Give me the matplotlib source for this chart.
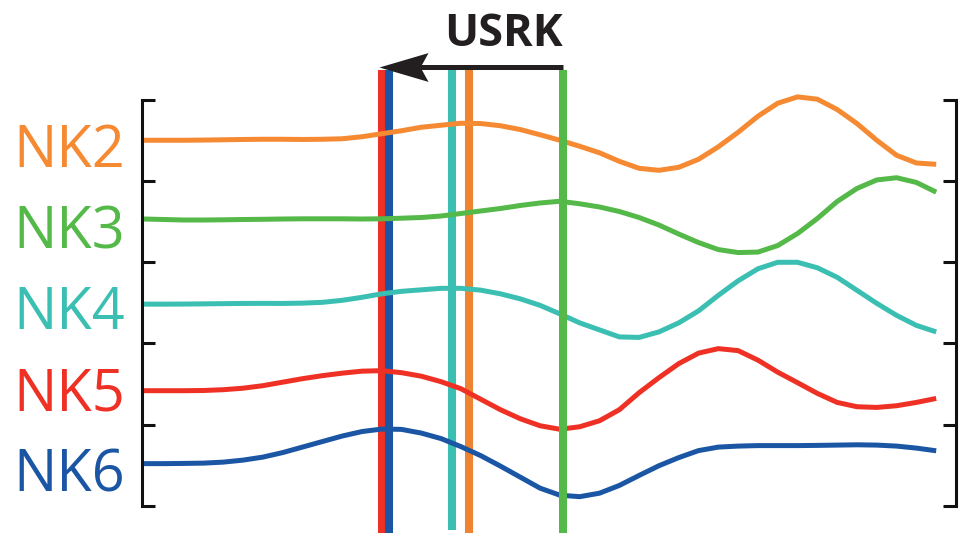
import numpy as np
import matplotlib.pyplot as plt
from matplotlib.path import Path
from matplotlib.transforms import blended_transform_factory

plt.rcParams['font.family'] = ['Open Sans', 'DejaVu Sans']

channels = ["NK2", "NK3", "NK4", "NK5", "NK6"]
colors = ["#F58A33", "#54B948", "#3BBFB2", "#EE3124", "#1B56A5"]
bar_colors = ["#EE8432", "#54B948", "#3BBFB2", "#EE3124", "#1B56A5"]

# 41 samples per channel, amplitude relative to the channel baseline
t = np.arange(41)
nk2 = [0.3, 0.3, 0.3, 0.5, 0.8, 1.1, 1.3, 1.3, 1.1, 1.3,
       1.8, 3.8, 6.8, 9.8, 13.3, 15.3, 17.3, 17.0, 14.8, 11.0,
       5.8, 0.3, -5.7, -12.2, -20.7, -27.7, -29.7, -26.7, -18.7, -6.2,
       8.3, 24.3, 37.3, 43.6, 41.3, 31.0, 17.0, 0.3, -14.7, -22.4,
       -23.7]
nk3 = [2.7, 2.2, 1.7, 1.7, 1.9, 2.2, 2.4, 2.7, 2.9, 2.9,
       2.9, 2.7, 2.9, 3.5, 4.2, 5.7, 8.2, 10.7, 13.2, 16.2,
       18.7, 20.4, 17.9, 14.7, 10.2, 4.2, -3.3, -12.3, -20.8, -27.8,
       -30.8, -30.3, -23.8, -11.8, 3.2, 20.2, 33.2, 41.7, 43.9, 39.2,
       29.5]
nk4 = [-1.3, -1.3, -1.2, -1.0, -0.8, -0.6, -0.5, -0.6, -0.3, 0.5,
       2.5, 5.5, 9.0, 11.5, 13.0, 14.5, 14.5, 12.7, 9.0, 4.0,
       -2.5, -11.0, -20.0, -27.0, -34.0, -34.5, -29.0, -20.0, -8.0, 7.5,
       22.0, 34.0, 40.5, 40.5, 35.0, 25.5, 12.5, -0.5, -12.5, -22.5,
       -29.0]
nk5 = [-6.7, -6.7, -6.7, -6.5, -5.7, -4.2, -1.7, 1.8, 5.3, 8.3,
       10.8, 12.8, 13.3, 11.3, 7.8, 2.3, -4.7, -15.2, -25.7, -34.7,
       -41.7, -45.2, -42.7, -36.7, -25.7, -8.7, 6.3, 20.3, 30.8, 35.3,
       33.3, 23.8, 11.8, 1.3, -9.4, -18.4, -22.7, -23.4, -21.7, -18.4,
       -14.4]
nk6 = [1.5, 1.5, 1.7, 2.0, 3.0, 5.0, 8.0, 12.5, 18.0, 23.5,
       29.0, 33.5, 36.0, 35.7, 32.0, 26.5, 18.5, 9.5, -1.0, -12.0,
       -23.0, -30.0, -31.5, -28.0, -20.3, -10.3, -0.6, 7.5, 14.5, 18.0,
       19.0, 19.5, 19.5, 19.5, 19.7, 20.0, 20.3, 20.0, 19.0, 17.0,
       14.3]
traces = [nk2, nk3, nk4, nk5, nk6]

# onset sample for each channel
onsets = [16.4, 21.15, 15.55, 12.0, 12.35]
row_gap = 81

fig = plt.figure(figsize=(9.67, 5.39), dpi=100)
ax = fig.add_axes([142 / 967, 33.3 / 539, 814 / 967, 405.7 / 539])
ax.set_xlim(-0.1, 41.0)
ax.set_ylim(0, 5 * row_gap)

for side in ["top", "bottom"]:
    ax.spines[side].set_visible(False)
for side in ["left", "right"]:
    ax.spines[side].set_linewidth(2.2)
    ax.spines[side].set_color("#111111")
ax.set_xticks([])
ax.set_yticks(np.arange(6) * row_gap)
ax.tick_params(axis="y", direction="in", left=True, right=True, length=9.4,
               width=2.2, color="#111111", labelleft=False)

trans = blended_transform_factory(ax.transData, ax.transAxes)
label_trans = blended_transform_factory(ax.transAxes, ax.transData)

# onset bars (green one drawn over the traces)
for k in [3, 4, 2, 0, 1]:
    lo = -0.06 if k == 2 else -0.067
    ax.axvline(onsets[k], ymin=lo, ymax=1.073, color=bar_colors[k], lw=5.8,
               solid_capstyle="butt", clip_on=False, zorder=4 if k == 1 else 1)

for k, name in enumerate(channels):
    base = (4 - k + 0.5) * row_gap
    ax.plot(t, base + np.array(traces[k]), color=colors[k], lw=3.6,
            solid_capstyle="butt", zorder=3, clip_on=False)
    ax.annotate(name, xy=(0, base), xycoords=label_trans, xytext=(-12, -19),
                textcoords="offset points", ha="right", va="baseline",
                fontsize=41.5, color=colors[k])

# propagation arrow from latest to earliest onset
tail = onsets[1]
tip = min(onsets) - 0.15
y_arrow = 1.081
ax.plot([tail, tip + 1.8], [y_arrow, y_arrow], color="#231F20", lw=3.6,
        solid_capstyle="butt", transform=trans, clip_on=False, zorder=5)
head = Path([(0, 0), (3.4, 1), (2.85, 0), (3.4, -1), (0, 0)],
            [Path.MOVETO, Path.LINETO, Path.LINETO, Path.LINETO, Path.CLOSEPOLY])
ax.plot([tip], [y_arrow], marker=head, markersize=70.6, markeredgewidth=0,
        markerfacecolor="#231F20", transform=trans, clip_on=False, zorder=5)
ax.text(tail, 1.1326, "USRK", transform=trans, ha="right", va="baseline",
        fontsize=32.5, fontweight="bold", color="#231F20")

fig.savefig("out.png", dpi=100)
